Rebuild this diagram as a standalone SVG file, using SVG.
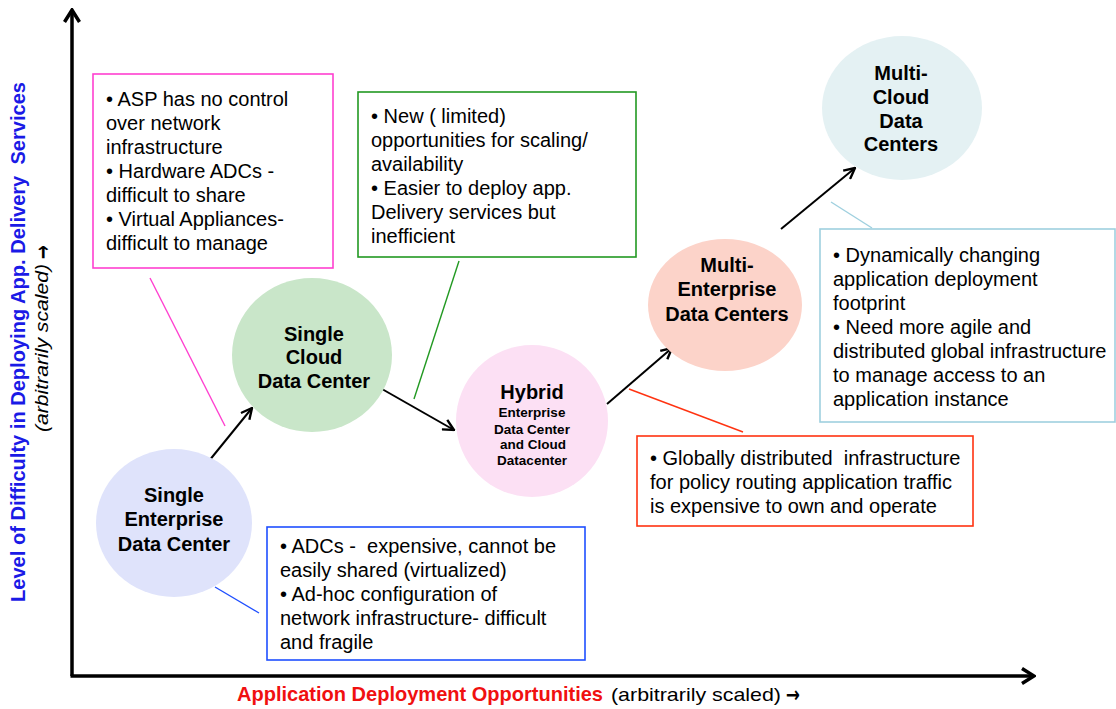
<svg xmlns="http://www.w3.org/2000/svg" width="1116" height="709" viewBox="0 0 1116 709">
<defs>
<style>
text{font-family:"Liberation Sans",Arial,sans-serif;white-space:pre;fill:#000}
.bt{font-size:20px}
.ct{font-size:20px;font-weight:bold;text-anchor:middle}
.cs{font-size:13.5px;font-weight:bold;text-anchor:middle}
.ar{font-family:"DejaVu Sans",sans-serif;font-weight:bold;font-size:22px}
.box{fill:#fff;stroke-width:1.6}
.lead{fill:none;stroke-width:1.4}
.conn{fill:none;stroke:#000;stroke-width:2}
.axis{fill:none;stroke:#000;stroke-width:3.5}
</style>
<marker id="arr" viewBox="0 0 12 12" refX="11" refY="6" markerWidth="13" markerHeight="13" markerUnits="userSpaceOnUse" orient="auto">
<path d="M1,1 L11,6 L1,11" fill="none" stroke="#000" stroke-width="2.2"/>
</marker>
<marker id="axarr" viewBox="0 0 16 18" refX="14" refY="9" markerWidth="16" markerHeight="18" markerUnits="userSpaceOnUse" orient="auto">
<path d="M2,1.5 L14,9 L2,16.5" fill="none" stroke="#000" stroke-width="3.5"/>
</marker>
</defs>

<g id="axes">
<path class="axis" d="M72,676 V10" marker-end="url(#axarr)"/>
<path class="axis" d="M70.5,676 H1034" marker-end="url(#axarr)"/>
<text transform="translate(25,602) rotate(-90)" font-size="21" font-weight="bold" style="fill:#1a1ae6" textLength="520" lengthAdjust="spacingAndGlyphs">Level of Difficulty in Deploying App. Delivery  Services</text>
<text transform="translate(48,432) rotate(-90)" font-size="19" font-style="italic" textLength="168" lengthAdjust="spacingAndGlyphs">(arbitrarily scaled)</text>
<text class="ar" transform="translate(50,259) rotate(-90)" textLength="14" lengthAdjust="spacingAndGlyphs">→</text>
<text x="237" y="701" font-size="21" font-weight="bold" style="fill:#f01010" textLength="366" lengthAdjust="spacingAndGlyphs">Application Deployment Opportunities</text>
<text x="611" y="701" font-size="19" textLength="170" lengthAdjust="spacingAndGlyphs">(arbitrarily scaled)</text>
<text class="ar" x="786" y="702" textLength="14" lengthAdjust="spacingAndGlyphs">→</text>
</g>

<g id="connectors">
<path class="conn" d="M200,472 L252,408" marker-end="url(#arr)"/>
<path class="conn" d="M382,389 L454,430" marker-end="url(#arr)"/>
<path class="conn" d="M607,404 L672,348" marker-end="url(#arr)"/>
<path class="conn" d="M781,229 L855,168" marker-end="url(#arr)"/>
<path class="lead" stroke="#ff40d0" d="M150,278 L225,426"/>
<path class="lead" stroke="#229922" d="M459,261 L414,399"/>
<path class="lead" stroke="#1f4fff" d="M215,587 L259,613"/>
<path class="lead" stroke="#ff3311" d="M629,389 L743,432"/>
<path class="lead" stroke="#9fd0df" d="M831,202 L872,228"/>
</g>

<g id="node-single-enterprise">
<ellipse cx="174" cy="523" rx="78" ry="74" fill="#dfe3fb"/>
<text class="ct" x="174" y="502">Single</text>
<text class="ct" x="174" y="526">Enterprise</text>
<text class="ct" x="174" y="551">Data Center</text>
</g>

<g id="node-single-cloud">
<ellipse cx="312" cy="355" rx="80" ry="77" fill="#c9e6c9"/>
<text class="ct" x="314" y="341">Single</text>
<text class="ct" x="314" y="364">Cloud</text>
<text class="ct" x="314" y="388">Data Center</text>
</g>

<g id="node-hybrid">
<ellipse cx="532" cy="421" rx="76" ry="76" fill="#fce0f4"/>
<text class="ct" x="532" y="399">Hybrid</text>
<text class="cs" x="532" y="417">Enterprise</text>
<text class="cs" x="532" y="434">Data Center</text>
<text class="cs" x="533" y="449">and Cloud</text>
<text class="cs" x="532" y="465">Datacenter</text>
</g>

<g id="node-multi-enterprise">
<ellipse cx="725" cy="305" rx="77" ry="66" fill="#fcd3c9"/>
<text class="ct" x="727" y="272">Multi-</text>
<text class="ct" x="727" y="296">Enterprise</text>
<text class="ct" x="727" y="321">Data Centers</text>
</g>

<g id="node-multi-cloud">
<ellipse cx="902" cy="108" rx="80" ry="72" fill="#e4f1f3"/>
<text class="ct" x="901" y="80">Multi-</text>
<text class="ct" x="901" y="104">Cloud</text>
<text class="ct" x="901" y="128">Data</text>
<text class="ct" x="901" y="151">Centers</text>
</g>

<g id="note-pink">
<rect class="box" x="93" y="74" width="240" height="194" stroke="#ff40d0"/>
<text class="bt" x="106" y="106">• ASP has no control</text>
<text class="bt" x="106" y="130">over network</text>
<text class="bt" x="106" y="154">infrastructure</text>
<text class="bt" x="106" y="178">• Hardware ADCs -</text>
<text class="bt" x="106" y="202">difficult to share</text>
<text class="bt" x="106" y="226">• Virtual Appliances-</text>
<text class="bt" x="106" y="250">difficult to manage</text>
</g>

<g id="note-green">
<rect class="box" x="358" y="92" width="278" height="165" stroke="#229922"/>
<text class="bt" x="371" y="123">• New ( limited)</text>
<text class="bt" x="371" y="147">opportunities for scaling/</text>
<text class="bt" x="371" y="171">availability</text>
<text class="bt" x="371" y="195">• Easier to deploy app.</text>
<text class="bt" x="371" y="219">Delivery services but</text>
<text class="bt" x="371" y="243">inefficient</text>
</g>

<g id="note-blue">
<rect class="box" x="267" y="527" width="318" height="133" stroke="#1f4fff"/>
<text class="bt" x="280" y="553">• ADCs -  expensive, cannot be</text>
<text class="bt" x="280" y="577">easily shared (virtualized)</text>
<text class="bt" x="280" y="601">• Ad-hoc configuration of</text>
<text class="bt" x="280" y="625">network infrastructure- difficult</text>
<text class="bt" x="280" y="649">and fragile</text>
</g>

<g id="note-red">
<rect class="box" x="637" y="436" width="336" height="90" stroke="#ff3311"/>
<text class="bt" x="650" y="465">• Globally distributed  infrastructure</text>
<text class="bt" x="650" y="489">for policy routing application traffic</text>
<text class="bt" x="650" y="513">is expensive to own and operate</text>
</g>

<g id="note-lightblue">
<rect class="box" x="820" y="229" width="295" height="193" stroke="#9fd0df"/>
<text class="bt" x="833" y="262">• Dynamically changing</text>
<text class="bt" x="833" y="286">application deployment</text>
<text class="bt" x="833" y="310">footprint</text>
<text class="bt" x="833" y="334">• Need more agile and</text>
<text class="bt" x="833" y="358">distributed global infrastructure</text>
<text class="bt" x="833" y="382">to manage access to an</text>
<text class="bt" x="833" y="406">application instance</text>
</g>
</svg>
